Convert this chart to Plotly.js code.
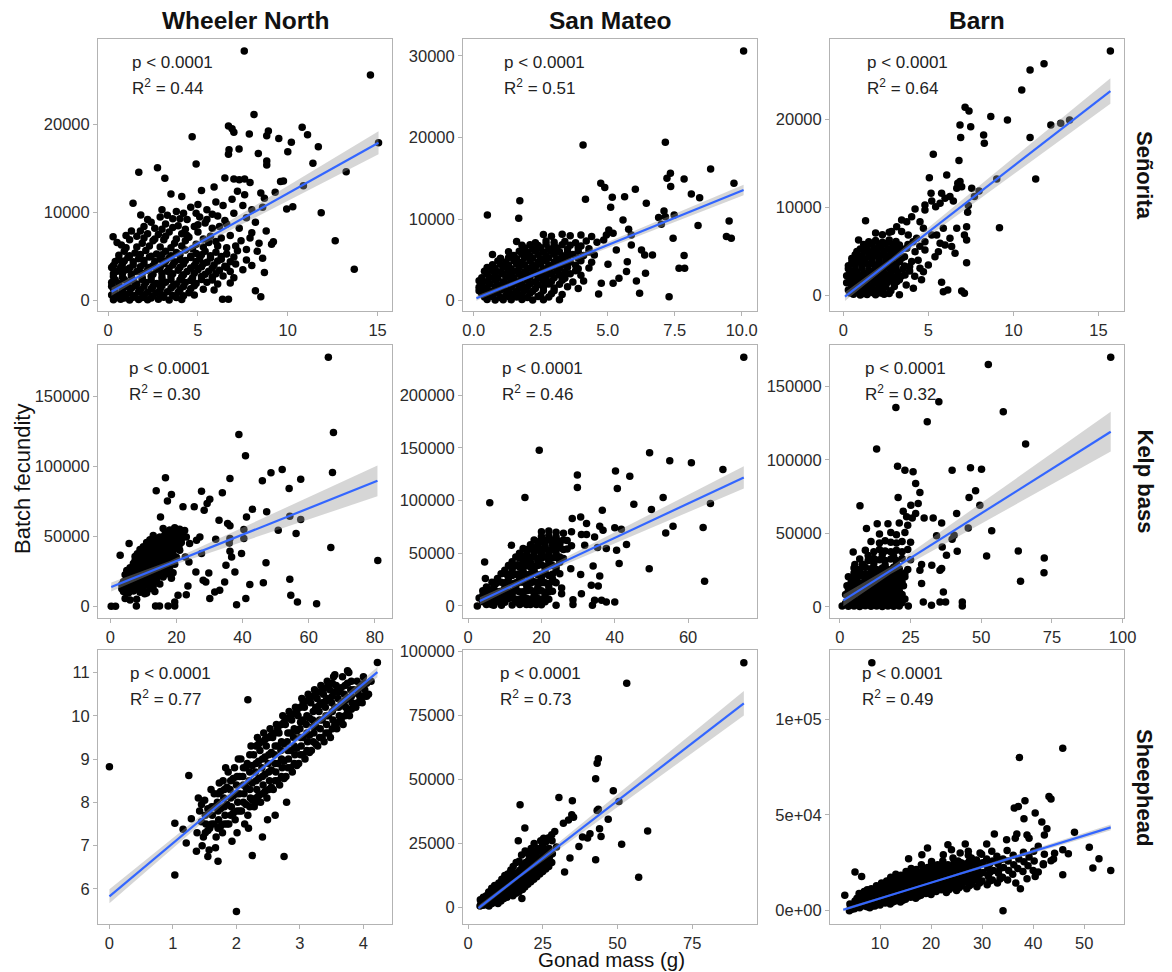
<!DOCTYPE html>
<html><head><meta charset="utf-8">
<script src="https://cdn.plot.ly/plotly-3.0.1.min.js"></script>
<style>html,body{margin:0;padding:0;background:#fff;}#chart{width:1172px;height:972px;}</style>
</head><body><div id="chart"></div>
<script>
const sites = ['Wheeler North', 'San Mateo', 'Barn'];
const species = ['Señorita', 'Kelp bass', 'Sheephead'];
const r2Values = ['0.44', '0.51', '0.64', '0.30', '0.46', '0.32', '0.77', '0.73', '0.49'];

// ---- Señorita ----
const wnSenorita = [[7.58,28300],[14.6,25600],[15.05,17900],[8.12,21100],[4.68,18600],[6.7,19800],[6.9,19500],[7.0,19100],[7.86,18900],[8.92,19240],[8.83,18700],[9.5,18400],[10.2,17950],[10.0,16900],[10.8,19650],[11.1,18800],[11.7,17450],[11.4,15570],[6.73,17100],[6.7,16600],[7.29,17200],[8.36,16700],[8.83,15840],[8.83,15380],[4.9,15500],[2.75,15080],[1.71,14550],[3.16,13870],[13.25,14630],[10.87,13040],[9.76,13570],[9.6,13500],[11.86,9980],[12.64,6800],[13.7,3550],[9.94,10400],[10.28,10660],[9.1,6390],[9.2,6690],[8.2,1130],[8.5,450],[6.37,150],[6.7,150],[1.39,11040],[1.82,9710],[0.28,7260],[0.74,6300],
[3.5,12100],[4.1,11800],[5.2,12500],[5.9,12900],[6.5,13900],[7.0,13800],[7.3,13700],[7.6,13800],[7.9,13400],[7.2,12400],[7.6,12000],[8.5,12200],[8.7,11600],[9.3,12300],[6.0,11200],[6.4,10800],[6.9,11500],[7.5,10800],[8.0,10300],[8.6,10600],[5.0,10900],[5.5,10300],[4.6,10600],[4.2,9900],[3.8,10100],[3.0,10300],[2.9,9500],[3.6,9300],[4.4,9200],[5.1,9500],[5.8,9800],[6.5,9100],[7.0,9900],[7.7,9400],[8.2,8900],[3.2,8700],[2.4,8900],[2.0,8400],[2.6,8200],[3.9,8500],[4.8,8400],[5.4,8800],[6.2,8400],[7.3,8200],[8.0,7700],[8.8,7900],[1.3,7900],[1.0,7400],[1.6,7300],[2.2,7600],[2.8,7500],[3.4,7800],[4.1,7600],[4.5,7200],[5.0,7800],[5.7,7300],[6.3,7100],[6.8,7400],[7.4,6800],[7.9,7100],[8.4,6500],[0.5,6600],[1.2,6900],[1.9,6500],[2.5,6800],[3.1,6900],[3.7,6500],[4.3,6800],[4.9,6400],[5.6,6600],[6.1,6200],[6.6,6000],[7.1,6200],[7.7,5800],[8.3,5600],[8.6,4800],
[1.0,6000],[1.6,6100],[2.3,6200],[2.9,6100],[3.5,6000],[4.1,6200],[4.7,5900],[5.3,6100],[2.0,7100],[2.6,7000],[3.2,7300],[3.8,7000],[4.4,7400],[5.3,7000],[6.0,6700],[1.8,7900],[3.0,8100],[3.6,8300],[4.3,8100],[5.0,8600],[5.8,8200],[2.2,9200],[3.3,9700],[4.0,9300],[4.9,9900],[5.5,9200],[6.1,9600],[6.6,8700],
[0.9,5600],[1.5,5400],[2.1,5700],[2.7,5300],[3.2,5600],[3.8,5450],[4.3,5750],[4.9,5350],[5.4,5600],[6.0,5500],[6.6,5300],[7.2,5650],
[0.6,5150],[1.2,5100],[1.8,5250],[2.4,5050],[3.0,5200],[3.5,5100],[4.0,5250],[4.6,5050],[5.2,5200],[5.7,5100],[6.3,5000],
[0.6,4700],[1.1,4900],[1.7,4750],[2.3,4950],[2.9,4700],[3.4,4850],[4.0,4650],[4.6,4900],[5.1,4750],[5.7,4850],[6.3,4700],[7.0,4950],[7.7,4600],
[0.4,4450],[0.9,4500],[1.4,4400],[2.0,4550],[2.6,4450],[3.2,4500],[3.7,4400],[4.3,4550],[4.9,4450],[5.5,4350],[6.1,4500],[6.8,4400],
[0.3,4000],[0.8,4200],[1.4,4050],[2.0,4150],[2.5,3950],[3.1,4200],[3.6,4050],[4.2,4150],[4.8,4000],[5.3,4200],[5.9,4050],[6.5,3900],[7.1,4150],[8.0,4000],
[0.2,3750],[0.7,3800],[1.2,3700],[1.8,3850],[2.3,3750],[2.9,3800],[3.4,3700],[4.0,3800],[4.6,3700],[5.2,3850],[5.8,3700],[6.6,3750],
[0.5,3350],[1.0,3500],[1.6,3300],[2.2,3450],[2.7,3550],[3.3,3350],[3.9,3450],[4.4,3300],[5.0,3500],[5.6,3350],[6.2,3450],[6.8,3300],[7.5,3500],[8.7,3200],
[0.3,3050],[0.8,3100],[1.3,3000],[1.9,3100],[2.5,3000],[3.0,3100],[3.6,3050],[4.2,2950],[4.8,3100],[5.4,3000],[6.0,3050],
[0.3,2750],[0.8,2650],[1.3,2800],[1.9,2600],[2.4,2750],[3.0,2650],[3.5,2800],[4.1,2700],[4.7,2600],[5.2,2750],[5.8,2650],[6.4,2800],[7.0,2600],
[0.4,2350],[0.9,2400],[1.4,2300],[1.9,2400],[2.4,2350],[3.0,2300],[3.5,2400],[4.0,2350],[4.6,2300],[5.2,2400],[5.8,2350],
[0.2,2050],[0.6,1950],[1.1,2100],[1.6,1900],[2.1,2050],[2.7,1950],[3.2,2100],[3.8,1900],[4.3,2050],[4.9,1950],[5.5,2100],[6.1,1900],[6.8,2000],
[0.2,1650],[0.6,1700],[1.0,1600],[1.5,1700],[2.0,1650],[2.5,1600],[3.0,1700],[3.6,1650],[4.2,1600],[4.8,1700],
[0.3,1350],[0.8,1250],[1.3,1400],[1.8,1250],[2.4,1350],[2.9,1300],[3.5,1400],[4.0,1250],[4.6,1350],[5.3,1300],[5.9,1200],
[0.4,950],[0.8,1000],[1.2,900],[1.7,1000],[2.2,950],[2.7,900],[3.3,1000],[3.9,950],[4.5,900],
[0.2,650],[0.6,550],[1.0,700],[1.5,600],[2.0,650],[2.5,550],[3.0,650],[3.6,600],[4.2,550],[4.8,650],
[0.4,350],[0.9,300],[1.4,400],[1.9,350],[2.4,300],[3.1,400],[3.8,350],
[0.3,100],[0.7,150],[1.2,80],[1.7,120],[2.2,100],[2.8,150],[3.4,90],[4.1,120]];

const smSenorita = [[10.07,30600],[4.08,19090],[7.15,19410],[8.84,16140],[7.34,15610],[7.21,15000],[7.35,13980],[7.85,14920],[9.71,14390],[4.74,14390],[4.89,13860],[8.12,13080],[8.43,12630],[6.03,13650],[5.63,12750],[5.17,12670],[5.11,11440],[4.17,12420],[6.44,11930],[1.72,12260],[0.51,10500],[1.68,10100],[5.57,9890],[6.9,10180],[7.1,11000],[7.15,10300],[7.48,10500],[7.0,9360],[8.37,9200],[9.53,9770],[7.44,7640],[9.43,7850],[9.61,7640],[7.85,5520],[7.66,3960],[7.87,3960],[7.29,490],[6.19,900],[6.67,5600],[5.78,8750],[5.88,8050],[5.88,6830],[6.26,6210],[6.38,5600],[5.73,4780],[5.70,3560],[6.07,2410],[6.41,3350],[5.42,2740],[5.2,2130],[4.76,2130],[4.66,820],[5.01,4450],[5.32,6210],[4.85,7440],[4.95,8050],[5.04,8660],[5.2,8250],
[2.6,8100],[2.9,7900],[3.3,8150],[3.6,7950],[4.0,8050],[4.4,7850],
[1.6,7250],[2.3,7100],[2.7,7300],[3.0,7150],[3.4,7250],[3.8,7100],[4.2,7300],[4.6,7150],
[1.8,6800],[2.1,6850],[2.4,6750],[2.7,6900],[3.0,6750],[3.3,6850],[3.6,6800],[4.0,6700],
[1.9,6450],[2.2,6300],[2.5,6500],[2.8,6350],[3.1,6450],[3.5,6300],[3.9,6500],[4.3,6350],
[1.3,6000],[1.7,6050],[2.0,5950],[2.3,6100],[2.6,5950],[2.9,6050],[3.2,6000],[3.5,5900],[3.9,6050],[4.3,5950],
[0.7,5650],[1.5,5550],[1.8,5700],[2.1,5500],[2.4,5650],[2.7,5550],[3.0,5700],[3.3,5500],[3.7,5650],[4.1,5550],[4.5,5600],
[1.0,5200],[1.3,5250],[1.6,5150],[1.9,5300],[2.2,5200],[2.5,5150],[2.8,5250],[3.1,5150],[3.5,5250],[3.9,5200],
[0.9,4850],[1.2,4750],[1.5,4900],[1.8,4700],[2.1,4850],[2.4,4750],[2.7,4900],[3.0,4700],[3.3,4850],[3.6,4750],[4.0,4900],[4.4,4700],
[0.7,4400],[1.0,4450],[1.3,4350],[1.6,4500],[1.9,4400],[2.2,4350],[2.5,4450],[2.8,4350],[3.1,4450],[3.4,4400],[3.8,4350],
[0.5,4050],[0.8,3950],[1.1,4100],[1.4,3900],[1.7,4050],[2.0,3950],[2.3,4100],[2.6,3900],[2.9,4050],[3.2,3950],[3.5,4100],[3.9,3900],[4.3,4000],
[0.4,3600],[0.7,3650],[1.0,3550],[1.3,3700],[1.6,3600],[1.9,3550],[2.2,3650],[2.5,3550],[2.8,3650],[3.1,3600],[3.4,3550],[3.8,3650],
[0.5,3250],[0.8,3150],[1.1,3300],[1.4,3100],[1.7,3250],[2.0,3150],[2.3,3300],[2.6,3100],[2.9,3250],[3.2,3150],[3.6,3300],[4.0,3100],
[0.3,2800],[0.6,2850],[0.9,2750],[1.2,2900],[1.5,2800],[1.8,2750],[2.1,2850],[2.4,2750],[2.7,2850],[3.0,2800],[3.4,2750],
[0.2,2450],[0.5,2350],[0.8,2500],[1.1,2300],[1.4,2450],[1.7,2350],[2.0,2500],[2.3,2300],[2.6,2450],[2.9,2350],[3.3,2500],[3.7,2300],[4.1,2400],
[0.3,2000],[0.6,2050],[0.9,1950],[1.2,2100],[1.5,2000],[1.8,1950],[2.1,2050],[2.4,1950],[2.8,2050],[3.2,2000],
[0.2,1650],[0.5,1550],[0.8,1700],[1.1,1500],[1.4,1650],[1.7,1550],[2.0,1700],[2.3,1500],[2.6,1650],[3.0,1550],[3.5,1700],[3.9,1500],
[0.2,1200],[0.4,1250],[0.7,1150],[1.0,1300],[1.3,1200],[1.6,1150],[1.9,1250],[2.2,1150],[2.6,1250],[3.0,1200],
[0.3,850],[0.6,750],[0.9,900],[1.2,700],[1.5,850],[1.8,750],[2.1,900],[2.5,700],[2.9,850],[3.3,750],
[0.4,450],[0.7,500],[1.0,400],[1.3,500],[1.6,450],[2.0,400],[2.4,500],[2.8,450],
[0.5,150],[0.8,80],[1.1,120],[1.4,100],[1.8,150],[2.2,90],[2.6,120],[3.2,100]];

const barnSenorita = [[15.7,27750],[11.8,26300],[10.98,25590],[10.49,23320],[7.16,21360],[7.39,20940],[8.67,20300],[9.65,19920],[6.86,19350],[7.49,19160],[12.2,19350],[12.78,19540],[13.3,19920],[8.25,18220],[8.29,17270],[6.9,17920],[10.98,17920],[5.29,16030],[6.8,15310],[5.06,13380],[6.08,13680],[6.86,12930],[6.73,12740],[9.02,13230],[11.31,13230],[7.55,12170],[7.98,11870],[7.71,11230],[7.35,10210],[7.31,9450],[9.18,7710],[7.25,7820],[7.12,6880],[7.25,6310],[7.25,3740],[1.31,8500],[6.96,530],[7.12,260],[6.14,640],[5.88,450],[5.78,1510],
[4.22,9830],[4.8,10280],[5.2,10740],[5.43,10090],[5.69,10470],[5.98,11040],[6.27,11230],[6.47,10740],[6.67,12170],[6.96,12360],[5.78,11600],[5.16,11600],[4.8,9710],[3.43,8580],[3.73,8390],[4.02,8960],[4.51,8390],[3.14,7820],[2.84,7260],[3.43,7260],[3.82,6880],[4.31,6500],[4.8,6120],[5.2,6880],[4.71,7640],[5.69,5930],[5.98,5750],[6.37,5560],[6.57,4800],[6.27,6500],[6.67,7640],[5.88,7640],[5.49,6880],[5.59,4990],[5.39,4420],[5.0,3480],[4.71,2720],[4.51,3100],[4.8,5180],[4.22,4990],[3.73,5370],[4.02,3860],[3.43,4230],[3.63,2340],[4.12,830],[3.14,1590],[2.84,3100],
[3.6,4400],[3.9,3300],[4.2,2200],[4.4,4000],[3.8,5800],[4.1,6100],[4.5,5600],[3.7,1200],[3.9,2800],[4.6,1800],
[1.9,7100],[2.3,6900],[2.7,7200],
[0.9,6300],[1.5,6100],[1.9,6250],[2.3,6050],[2.7,6300],[3.1,6150],
[1.2,5800],[1.7,5850],[2.1,5750],[2.5,5900],[2.9,5800],[3.3,5750],
[1.0,5300],[1.4,5500],[1.8,5350],[2.2,5450],[2.6,5300],[3.0,5500],[3.4,5350],
[0.8,5000],[1.2,5050],[1.6,4950],[2.0,5100],[2.4,5000],[2.8,4950],[3.2,5050],
[0.7,4650],[1.1,4500],[1.5,4700],[1.9,4550],[2.3,4650],[2.7,4500],[3.1,4700],
[0.5,4200],[0.9,4250],[1.3,4150],[1.7,4300],[2.1,4200],[2.5,4150],[2.9,4250],[3.3,4200],
[0.5,3750],[0.9,3900],[1.3,3700],[1.7,3850],[2.1,3750],[2.5,3900],[2.9,3700],[3.3,3850],
[0.3,3400],[0.7,3450],[1.1,3350],[1.5,3500],[1.9,3400],[2.3,3350],[2.7,3450],[3.1,3400],[3.6,3350],
[0.3,3050],[0.7,2950],[1.1,3100],[1.5,2900],[1.9,3050],[2.3,2950],[2.7,3100],[3.1,2900],[3.5,3000],
[0.4,2600],[0.8,2650],[1.2,2550],[1.6,2700],[2.0,2600],[2.4,2550],[2.8,2650],[3.2,2600],
[0.2,2250],[0.6,2150],[1.0,2300],[1.4,2100],[1.8,2250],[2.2,2150],[2.6,2300],[3.0,2100],[3.4,2200],
[0.4,1800],[0.8,1850],[1.2,1750],[1.6,1900],[2.0,1800],[2.4,1750],[2.8,1850],[3.3,1800],
[0.2,1450],[0.6,1350],[1.0,1500],[1.4,1350],[1.8,1450],[2.2,1350],[2.6,1500],[3.0,1400],
[0.5,1000],[0.9,1050],[1.3,950],[1.7,1100],[2.1,1000],[2.5,950],[3.0,1050],
[0.3,650],[0.7,550],[1.1,700],[1.5,550],[1.9,650],[2.3,600],[2.8,550],
[0.4,300],[0.8,350],[1.2,250],[1.7,350],[2.2,300],[2.7,250],
[0.6,150],[1.0,80],[1.4,120],[1.9,100],[2.4,150],[3.3,90]];

// ---- Kelp bass ----
const wnKelp = [[65.96,177600],[67.5,124000],[38.9,122600],[40.9,107400],[67.2,95500],[52.0,97600],[48.6,95200],[46.0,89500],[57.6,90700],[36.2,91200],[54.1,84000],[16.7,91700],[13.9,82400],[18.5,79800],[17.3,75200],[27.6,82100],[30.1,76400],[29.3,73300],[33.9,81000],[22.0,71000],[25.4,71000],[28.4,68600],[43.0,69300],[47.3,67400],[15.2,63800],[41.2,63800],[32.9,61400],[35.5,59000],[36.2,57400],[40.4,54800],[54.3,64300],[57.6,61900],[50.8,54300],[56.2,51900],[36.2,48300],[36.0,45200],[31.9,47900],[40.4,48300],[27.1,49500],[24.0,44800],[26.1,47100],[36.2,39300],[36.7,35200],[39.7,37600],[27.6,37600],[22.7,35200],[23.8,31700],[35.0,29300],[47.1,31000],[37.7,24500],[25.9,24500],[29.8,23800],[28.1,18600],[28.9,17400],[34.6,17400],[42.2,15500],[46.3,16900],[80.9,32600],[66.7,41900],[54.3,19300],[54.6,7900],[56.6,3100],[62.4,1900],[38.2,1200],[41.0,5500],[5.7,44800],[3.0,36400],[30.1,5500],[31.6,10200],[33.1,11400],[23.5,14500],[23.0,8300],[20.5,7900],[19.5,3100],[17.5,240],[19.5,240],[13.7,240],[14.9,240],[10.4,9000],[7.9,240],[0.3,0],[1.6,0],
[16,55500],[18,54500],[19.5,56000],[21,55000],[22.5,54000],
[17,52500],[18.7,52000],[20.3,53000],[21.8,52500],
[13,50500],[15,49500],[16.5,51000],[18,50000],[19.5,49000],[21,50500],[23,49500],
[12,47500],[13.7,48000],[15.2,47000],[16.8,48000],[18.3,47000],[19.8,47500],[21.5,48000],
[11,45500],[12.5,44500],[14,46000],[15.5,45000],[17,44000],[18.5,45500],[20,44500],[21.5,45500],
[10,42500],[11.7,42000],[13.2,43000],[14.7,42000],[16.2,43000],[17.8,42500],[19.3,42000],[20.8,43000],
[9,40500],[10.5,39500],[12,41000],[13.5,40000],[15,39000],[16.5,40500],[18,39500],[19.5,41000],[21,40000],
[8.2,37500],[9.7,38000],[11.2,37000],[12.8,38000],[14.3,37000],[15.8,38000],[17.3,37500],[19,37000],
[7.5,35500],[9,34500],[10.5,36000],[12,35000],[13.5,34000],[15,35500],[16.5,34500],[18,36000],[20,35000],
[7.5,32500],[9,33000],[10.7,32000],[12.2,33000],[13.8,32000],[15.3,33000],[16.8,32500],[18.5,32000],
[7,30500],[8.5,29500],[10,31000],[11.5,30000],[13,29000],[14.5,30500],[16,29500],[17.5,31000],[19.5,30000],
[6,27500],[7.5,28000],[9,27000],[10.5,28000],[12,27000],[13.5,28000],[15,27500],[16.5,27000],[18,28000],
[5,25500],[6.5,24500],[8,26000],[9.5,25000],[11,24000],[12.5,25500],[14,24500],[15.5,26000],[17,25000],[19,24000],
[4.5,22500],[6,23000],[7.5,22000],[9,23000],[10.5,22000],[12,23000],[13.5,22500],[15,22000],[17,23000],
[5,20500],[6.5,19500],[8,21000],[9.5,20000],[11,19000],[12.5,20500],[14,19500],[16,21000],[18.5,20000],
[4,17500],[5.8,18000],[7.3,17000],[8.8,18000],[10.3,17000],[11.8,18000],[13.5,17500],
[3.5,15500],[5,14500],[6.5,16000],[8,15000],[9.5,14000],[11,15500],[13,14500],[15,16000],
[3.5,12500],[5,13000],[6.5,12000],[8.5,13000],[10,12000],[12,12500],
[4,10500],[5.5,9500],[7,11000],[9,10000],[11,9500],[13.5,10500],
[4.5,5500],[6,4500],[8,5000]];

const smKelp = [[75.2,235800],[19.4,147800],[49.5,145300],[55.0,137700],[60.9,135800],[69.5,129400],[40.2,127900],[44.1,123100],[29.8,124100],[29.8,112400],[40.7,111400],[15.5,102900],[5.9,97800],[53.2,102900],[45.2,96500],[50.0,91500],[66.1,97200],[36.6,90800],[28.4,82900],[30.7,84500],[35.9,75600],[36.8,71800],[40.0,74100],[41.8,72800],[55.9,75600],[53.9,69300],[64.1,74400],[32.3,78200],[28.2,70300],[30.9,67700],[32.3,67700],[34.5,65500],[43.2,58200],[40.5,52900],[37.7,54400],[35.3,55400],[31.8,57600],[28.2,57000],[11.8,57600],[41.2,40200],[34.1,38000],[49.4,35400],[64.5,23400],[30.7,29800],[28.0,35400],[35.9,28500],[35.5,19000],[33.6,19600],[25.5,17100],[30.9,11700],[28.6,6000],[33.9,600],[34.5,5400],[36.4,5400],[37.7,3800],[40.0,3800],[28.6,1300],[4.5,41800],[4.7,26000],[23.6,22800],[25.5,11700],[18.2,5400],[18.6,1300],[14.1,1300],[15.9,1300],[6.4,1300],[9.1,600],[2.5,0],
[20,70500],[22,71000],[24,70000],[26,69000],
[20,66000],[22,66500],[24,65500],
[18,62500],[19.5,61500],[21,62000],[23,62500],[25,61500],[27,62000],
[20,61000],[22,62500],[24,61000],[26,62500],
[17,58000],[19,58500],[21,57500],[23,58000],[25,58500],
[15,54500],[17,54000],[19,53000],[21,54500],[23,53500],[25,55000],[27,54000],
[16,53500],[18,55000],[20,54000],[22,53000],[24,54500],[26,53500],
[14,50000],[16,50500],[18,49500],[20,50000],[22,50500],[24,49500],
[13,46500],[14.5,46000],[16,45000],[18,46500],[20,45500],[22,47000],[24,46000],[26,45000],
[14,45500],[15.5,47000],[17,46000],[19,45000],[21,46500],[23,45500],[25,46500],
[12,42000],[15,42500],[17,41500],[19,42000],[22,42500],[25,41500],
[11,38500],[12.5,38000],[14,37000],[16,38500],[18,37500],[20,39000],[22,38000],[24,37000],
[12,37500],[13.5,39000],[15,38000],[17,37000],[19,38500],[21,37500],[23,38500],
[10,34000],[12,34500],[15,33500],[18,34000],[21,34500],[24,33500],
[9,30500],[10.5,30000],[12,29000],[14,30500],[16,29500],[18,31000],[20,30000],[22,29000],[25,30500],
[10,31000],[11.5,29500],[13,30000],[15,29000],[17,30500],[19,29500],[21,31000],[23,30000],
[8,26000],[11,26500],[14,25500],[17,26000],[20,26500],[23,25500],
[6.5,22500],[8,23000],[10,22000],[12,21000],[14,22500],[16,21500],[18,23000],[20,22000],[22,21000],[24,22000],
[7.5,21000],[9,22500],[11,21500],[13,22000],[15,22500],[17,21500],[19,22500],[21,22000],
[5,18000],[7,18500],[10,17500],[13,18000],[16,18500],[19,17500],[22,18000],
[4,14500],[5.5,13500],[7,15000],[9,14000],[11,13000],[13,14500],[15,13500],[17,15000],[19,14000],[21,13000],[23,14000],
[5,14000],[6,15000],[8,13500],[10,14500],[12,14000],[14,13500],[16,14500],[18,14000],[20,14500],[22,13500],
[4,10000],[6,10500],[8,9500],[10,10000],[12,10500],[15,9500],[18,10000],[21,10500],
[3,7500],[4.5,6500],[6,8000],[8,7000],[10,6000],[12,7500],[14,6500],[16,7000],[19,7000],[22,6500],
[4,7000],[5,8000],[7,6500],[9,7500],[11,7000],[13,6500],[15,7500],[17,6500],[18,7500],[20,6500],
[4,4000],[6,3500],[8,4500],[10,3500],[13,4000],[15,4500],[18,3500],[21,4000],
[5,1500],[7,800],[9,2000],[12,1000],[14,2500],[17,1500],[20,1200],[24,800]];

const barnKelp = [[95.8,169500],[52.5,164700],[19.8,135500],[35.0,139400],[30.9,125800],[57.8,132600],[13.0,107200],[65.7,110600],[20.4,95600],[23.0,92900],[25.9,91800],[39.7,92900],[46.2,94500],[50.1,93600],[26.8,83800],[28.3,77700],[20.6,74300],[25.1,69100],[27.7,70200],[48.0,78900],[45.7,74300],[49.5,69100],[41.3,63400],[7.1,68700],[22.4,65000],[23.6,61200],[25.6,60500],[26.8,63400],[29.8,60500],[33.0,60500],[36.0,57100],[45.4,53700],[53.7,51700],[9.4,53300],[13.2,56600],[34.2,48300],[40.4,48700],[39.7,46000],[36.2,40800],[37.7,35100],[41.5,37800],[51.9,34700],[63.1,38100],[72.3,33300],[72.2,23300],[63.9,17400],[28.9,28800],[28.3,24900],[32.5,28300],[36.0,26100],[35.4,24900],[28.9,15900],[36.6,10200],[29.5,3400],[32.4,1100],[35.4,3400],[37.4,3400],[43.3,3400],[43.3,680],[0.8,680],[8.8,1600],[18.3,1600],[24.2,680],[5.3,28800],[4.7,37400],
[17,56500],[21,57000],[24,55500],
[14,49500],[18,50500],[20,49000],[23,50500],
[11,44500],[14,43500],[16,45000],[18,44000],[20,43500],[22,44500],[25,44000],
[9,38500],[12,37500],[14,39000],[16,38000],[18,37500],[20,38500],[22,37500],[24,39000],
[10,35000],[15,35500],[19,34500],
[7,32500],[10,31500],[12,33000],[14,32000],[16,31500],[18,32500],[20,31500],[22,33000],[25,32000],
[8,29000],[12,29500],[16,28500],[20,29000],
[5,26500],[7,25500],[9,27000],[11,26000],[13,25500],[15,26500],[17,25500],[19,27000],[21,26000],[24,25500],
[5,23000],[7,23500],[9,22500],[11,23000],[13,23500],[15,22500],[17,23000],[19,23500],[21,22500],[23,23000],
[3,20500],[5,19500],[7,21000],[9,20000],[11,19500],[13,20500],[15,19500],[17,21000],[19,20000],[21,19500],[23,20500],
[4,17000],[6,17500],[8,16500],[10,17000],[12,17500],[14,16500],[16,17000],[18,17500],[20,16500],[22,17000],
[2.5,14500],[4.5,13500],[6.5,15000],[8.5,14000],[10.5,13500],[12.5,14500],[14.5,13500],[16.5,15000],[18.5,14000],[20.5,13500],[22.5,14500],
[3,11000],[5,11500],[7,10500],[9,11000],[11,11500],[13,10500],[15,11000],[17,11500],[19,10500],[21,11000],
[2,8500],[4,7500],[6,9000],[8,8000],[10,7500],[12,8500],[14,7500],[16,9000],[18,8000],[20,7500],[22,8500],
[3,5000],[5,5500],[7,4500],[9,5000],[11,5500],[13,4500],[15,5000],[17,5500],[19,4500],[21,5000],[23,5500],
[2,2500],[4,3000],[6,2000],[8,3200],[10,2600],[12,2000],[14,3000],[16,2400],[18,3200],[20,2000],[22,2800],
[3,500],[5,700],[7,400],[9,800],[11,500],[13,600],[15,400],[17,700],[19,500],[21,600]];

// ---- Sheephead ----
const wnSheep = [[0.0,8.82],[2.18,10.37],[4.22,11.23],[2.0,5.48],[1.03,6.32],[1.03,7.52],[1.25,8.62],[1.21,7.06],[1.37,6.87],[1.55,6.75],[1.71,6.64],[2.25,6.77],[2.75,6.75],[1.16,7.38],[1.29,7.62],[3.75,11.04],[3.55,10.95],
[1.38,7.3],[1.42,7.8],[1.40,8.1],
[1.48,7.2],[1.52,7.5],[1.50,8.05],[1.46,7.0],
[1.58,7.4],[1.62,7.7],[1.60,8.3],[1.57,6.9],
[1.68,7.2],[1.72,7.6],[1.70,8.0],[1.73,8.45],[1.67,6.95],
[1.78,7.3],[1.82,7.7],[1.80,8.1],[1.79,8.5],[1.83,8.8],
[1.88,7.5],[1.92,7.9],[1.90,8.3],[1.87,8.7],[1.93,7.1],
[1.98,7.6],[2.02,8.0],[2.00,8.4],[1.97,8.8],[2.03,9.0],[2.01,7.3],
[2.08,7.8],[2.12,8.2],[2.10,8.6],[2.07,9.0],[2.13,7.5],
[2.18,7.7],[2.22,8.1],[2.20,8.5],[2.17,8.9],[2.23,9.3],[2.19,7.4],
[2.28,7.9],[2.32,8.3],[2.30,8.7],[2.27,9.1],[2.33,9.5],[2.31,8.0],
[2.38,8.0],[2.42,8.4],[2.40,8.8],[2.37,9.2],[2.43,9.6],[2.41,7.2],
[2.48,8.1],[2.52,8.5],[2.50,8.9],[2.47,9.3],[2.53,9.7],[2.49,7.6],
[2.58,8.3],[2.62,8.7],[2.60,9.1],[2.57,9.5],[2.63,9.8],[2.61,7.7],
[2.68,8.4],[2.72,8.8],[2.70,9.2],[2.67,9.6],[2.73,10.0],
[2.78,8.6],[2.82,9.0],[2.80,9.4],[2.77,9.8],[2.83,10.1],[2.79,8.0],
[2.88,8.7],[2.92,9.1],[2.90,9.5],[2.87,9.9],[2.93,10.2],
[2.98,8.9],[3.02,9.3],[3.00,9.7],[2.97,10.0],[3.03,10.4],
[3.08,9.0],[3.12,9.4],[3.10,9.8],[3.07,10.2],[3.13,10.5],
[3.18,9.2],[3.22,9.6],[3.20,9.9],[3.17,10.3],[3.23,10.6],
[3.28,9.3],[3.32,9.7],[3.30,10.1],[3.27,10.4],[3.33,10.7],
[3.38,9.4],[3.42,9.8],[3.40,10.2],[3.37,10.5],[3.43,10.8],
[3.48,9.5],[3.52,9.9],[3.50,10.3],[3.47,10.6],[3.53,10.9],
[3.58,9.7],[3.62,10.0],[3.60,10.4],[3.57,10.7],
[3.68,9.8],[3.72,10.2],[3.70,10.5],[3.67,10.9],
[3.78,10.0],[3.82,10.3],[3.80,10.6],[3.77,11.0],
[3.88,10.2],[3.92,10.5],[3.90,10.8],
[3.98,10.3],[4.02,10.6],[4.00,10.9],
[4.08,10.5],[4.12,10.8],
[1.45,7.55],[1.45,7.95],[1.55,7.35],[1.55,7.85],[1.65,7.5],[1.65,7.9],[1.65,8.2],[1.75,7.45],[1.75,7.85],[1.75,8.25],[1.85,7.5],[1.85,7.95],[1.85,8.35],[1.95,7.75],[1.95,8.15],[1.95,8.55],[2.05,7.8],[2.05,8.2],[2.05,8.6],[2.15,7.95],[2.15,8.35],[2.15,8.8],[2.25,8.05],[2.25,8.45],[2.25,8.85],[2.35,8.15],[2.35,8.55],[2.35,8.95],[2.35,9.35],[2.45,8.25],[2.45,8.65],[2.45,9.05],[2.45,9.45],[2.55,8.35],[2.55,8.75],[2.55,9.15],[2.55,9.55],[2.65,8.5],[2.65,8.9],[2.65,9.3],[2.65,9.7],[2.75,8.55],[2.75,8.95],[2.75,9.35],[2.75,9.85],[2.85,8.8],[2.85,9.2],[2.85,9.6],[2.85,10.0],[2.95,8.85],[2.95,9.25],[2.95,9.65],[2.95,10.1],[3.05,9.1],[3.05,9.5],[3.05,9.9],[3.05,10.3],[3.15,9.15],[3.15,9.55],[3.15,9.95],[3.15,10.4],[3.25,9.35],[3.25,9.75],[3.25,10.2],[3.25,10.55],[3.35,9.5],[3.35,9.9],[3.35,10.3],[3.35,10.6],[3.45,9.6],[3.45,10.0],[3.45,10.4],[3.45,10.7],[3.55,9.8],[3.55,10.2],[3.55,10.55],[3.65,9.9],[3.65,10.3],[3.65,10.65],[3.75,10.1],[3.75,10.4],[3.75,10.75],[3.85,10.25],[3.85,10.6],[3.95,10.4],[3.95,10.7],[4.05,10.45],[4.05,10.75],
[1.51,7.3],[1.51,7.7],[1.61,7.5],[1.61,7.9],[1.71,7.4],[1.71,7.8],[1.71,8.2],[1.81,7.5],[1.81,7.9],[1.81,8.3],[1.91,7.7],[1.91,8.1],[1.91,8.5],[2.01,7.8],[2.01,8.2],[2.01,8.6],[2.11,8.0],[2.11,8.4],[2.11,8.8],[2.21,7.9],[2.21,8.3],[2.21,8.7],[2.21,9.1],[2.31,8.1],[2.31,8.5],[2.31,8.9],[2.31,9.3],[2.41,8.2],[2.41,8.6],[2.41,9.0],[2.41,9.4],[2.51,8.3],[2.51,8.7],[2.51,9.1],[2.51,9.5],[2.61,8.5],[2.61,8.9],[2.61,9.3],[2.61,9.6],[2.71,8.6],[2.71,9.0],[2.71,9.4],[2.71,9.8],[2.81,8.8],[2.81,9.2],[2.81,9.6],[2.81,9.95],[2.91,8.9],[2.91,9.3],[2.91,9.7],[2.91,10.05],[3.01,9.1],[3.01,9.5],[3.01,9.85],[3.01,10.2],[3.11,9.2],[3.11,9.6],[3.11,10.0],[3.11,10.35],[3.21,9.4],[3.21,9.75],[3.21,10.1],[3.21,10.45],[3.31,9.5],[3.31,9.9],[3.31,10.25],[3.31,10.55],[3.41,9.6],[3.41,10.0],[3.41,10.35],[3.41,10.65],[3.51,9.7],[3.51,10.1],[3.51,10.45],[3.51,10.75],[3.61,9.85],[3.61,10.2],[3.61,10.55],[3.71,10.0],[3.71,10.35],[3.71,10.7],[3.81,10.15],[3.81,10.45],[3.81,10.8],[3.91,10.3],[3.91,10.6],[4.01,10.45],[4.01,10.75]];

const smSheep = [[92.3,95700],[53.1,87600],[43.6,58100],[43.2,56400],[42.7,50300],[48.6,45600],[30.4,43000],[34.9,41700],[17.4,40100],[43.6,38400],[43.2,37900],[50.5,41400],[46.9,34500],[34.7,36200],[35.3,35200],[33.6,34200],[31.9,32900],[60.1,29900],[44.0,30700],[44.5,27700],[40.8,28800],[40.0,27100],[38.3,27500],[51.4,24700],[42.7,18600],[34.1,19300],[32.3,13800],[57.1,11800],[37.1,23800],[19.0,31000],[16.8,26000],[29.6,23600],[26.9,27100],[28.0,28400],[29.0,29700],
[4,500],[4.3,1500],[4.1,3000],
[5,800],[5.2,2500],[5.1,4000],
[6,1000],[6.2,2500],[6.1,4500],
[7,500],[7.2,2000],[7.1,4000],[6.9,6000],
[8,1500],[8.2,3500],[8.1,5500],[7.9,7500],
[9,2000],[9.2,4000],[9.1,6000],[8.9,8500],
[10,1500],[10.2,3000],[10.1,5000],[9.9,7000],[10.3,9500],
[11,2500],[11.2,4500],[11.1,6500],[10.9,8500],[11.3,11000],
[12,3500],[12.2,5500],[12.1,7500],[11.9,9500],[12.3,12500],
[13,4000],[13.2,6000],[13.1,8000],[12.9,10500],[13.3,13000],
[14,5000],[14.2,7000],[14.1,9000],[13.9,11000],[14.3,14500],
[15,4500],[15.2,6500],[15.1,8500],[14.9,10500],[15.3,12500],[15.1,16000],
[16,5500],[16.2,7500],[16.1,9500],[15.9,11500],[16.3,13500],[16.1,17500],
[17,6000],[17.2,8000],[17.1,10000],[16.9,12000],[17.3,14500],[17.1,18000],
[18,3500],[18.2,7000],[18.1,9000],[17.9,11000],[18.3,13500],[18.1,16000],[17.9,20500],
[19,8000],[19.2,10000],[19.1,12500],[18.9,15000],[19.3,17500],[19.1,22000],
[20,9000],[20.2,11000],[20.1,13500],[19.9,16000],[20.3,18500],[20.1,21000],
[21,10000],[21.2,12500],[21.1,15000],[20.9,17500],[21.3,20000],[21.1,23000],
[22,11000],[22.2,13500],[22.1,16000],[21.9,18500],[22.3,21500],[22.1,25000],
[23,12000],[23.2,14500],[23.1,17500],[22.9,20000],[23.3,23000],
[24,13000],[24.2,16000],[24.1,19000],[23.9,22000],[24.3,26000],
[25,14000],[25.2,17000],[25.1,20000],[24.9,24000],[25.3,27000],
[26,15000],[26.2,18500],[26.1,22000],[25.9,25500],
[27,16000],[27.2,19500],[27.1,23000],[26.9,27000],
[28,17500],[28.2,21000],[28.1,26000]];

const barnSheep = [[8.4,129600],[45.8,84900],[37.3,80000],[43.1,59600],[43.5,58400],[38.4,57400],[36.3,53600],[37.1,54400],[40.4,51000],[38.2,48000],[41.7,46300],[42.7,42800],[38.8,39600],[39.2,37900],[36.8,40000],[36.5,37900],[42.2,39600],[32.4,40000],[34.8,37000],[48.1,41000],[51.0,33200],[52.9,27100],[55.2,21000],[51.7,22300],[45.8,31800],[46.9,29700],[45.8,18800],[41.0,33600],[43.5,26100],[42.0,24000],[41.0,20200],[40.4,17900],[38.8,16700],[37.5,11500],[36.6,14400],[34.1,0],[30.9,34800],[29.6,30100],[26.7,34800],[27.3,31000],[25.7,30100],[23.3,34400],[24.0,31800],[22.4,29200],[20.1,25700],[19.3,32700],[18.2,29200],[15.6,27100],[14.4,17000],[5.1,20200],[6.4,17900],[3.1,8000],
[4,0],[4.2,1500],[4.1,3500],[4.5,700],[4.5,2500],
[5,1000],[5.2,3000],[5.1,5000],[5.5,2000],[5.5,4000],[5.5,6500],
[6,1500],[6.2,4000],[6.1,6500],[5.9,9000],[6.5,3000],[6.5,5500],[6.5,8000],
[7,2500],[7.2,4500],[7.1,7000],[6.9,10000],[7.5,2000],[7.5,5500],[7.5,8000],[7.5,11000],
[8,1500],[8.2,3500],[8.1,6000],[7.9,8500],[8.3,11500],[8.5,2500],[8.5,5000],[8.5,7000],[8.5,9500],
[9,2500],[9.2,5000],[9.1,7500],[8.9,10000],[9.3,13000],[9.5,4000],[9.5,6500],[9.5,9000],[9.5,12000],
[10,3000],[10.2,5500],[10.1,8000],[9.9,11000],[10.3,14500],[10.5,4500],[10.5,7000],[10.5,9500],[10.5,12500],
[11,4000],[11.2,6500],[11.1,9000],[10.9,12000],[11.3,15500],[11.5,5000],[11.5,7500],[11.5,10500],[11.5,13500],
[12,3500],[12.2,6000],[12.1,8500],[11.9,11000],[12.3,14000],[12.1,17500],[12.5,4500],[12.5,7000],[12.5,10000],[12.5,12500],[12.5,16000],
[13,5000],[13.2,7500],[13.1,10000],[12.9,13000],[13.3,16000],[13.1,19000],[13.5,6000],[13.5,8500],[13.5,11500],[13.5,14500],[13.5,17500],
[14,4500],[14.2,7000],[14.1,9500],[13.9,12500],[14.3,15500],[14.1,18500],[14.5,5500],[14.5,8000],[14.5,11000],[14.5,14000],[14.5,17000],
[15,6000],[15.2,8500],[15.1,11000],[14.9,14000],[15.3,17000],[15.1,20500],[15.5,7500],[15.5,10000],[15.5,13000],[15.5,16000],[15.5,19000],
[16,7000],[16.2,9500],[16.1,12500],[15.9,15500],[16.3,18500],[16.1,22000],[16.5,8000],[16.5,11000],[16.5,14000],[16.5,17000],[16.5,20000],
[17,6500],[17.2,9000],[17.1,12000],[16.9,15000],[17.3,18000],[17.1,21500],[17.5,7500],[17.5,10500],[17.5,13500],[17.5,16500],[17.5,19500],
[18,8000],[18.2,11000],[18.1,14000],[17.9,17000],[18.3,20500],[18.1,24000],[18.5,9500],[18.5,12500],[18.5,15500],[18.5,19000],[18.5,22000],
[19,9000],[19.2,12000],[19.1,15500],[18.9,19000],[19.3,22500],[19.5,10500],[19.5,13500],[19.5,17000],[19.5,20500],
[20,8500],[20.2,11500],[20.1,14500],[19.9,18000],[20.3,21500],[20.1,25000],[20.5,10000],[20.5,13000],[20.5,16000],[20.5,19500],[20.5,23000],
[21,10000],[21.2,13500],[21.1,17000],[20.9,20500],[21.3,24000],[21.5,11500],[21.5,15000],[21.5,18500],[21.5,22000],
[22,11000],[22.2,14500],[22.1,18000],[21.9,22000],[22.3,26000],[22.5,12500],[22.5,16000],[22.5,19500],[22.5,23500],
[23,9500],[23.2,13000],[23.1,16500],[22.9,20000],[23.3,24000],[23.5,11000],[23.5,14500],[23.5,18000],[23.5,21500],
[24,12000],[24.2,15500],[24.1,19500],[23.9,23000],[24.3,27500],[24.5,13500],[24.5,17500],[24.5,21000],[24.5,25000],
[25,10500],[25.2,14500],[25.1,18500],[24.9,22500],[25.3,26000],[25.5,12000],[25.5,16500],[25.5,20500],[25.5,24000],
[26,13000],[26.2,17000],[26.1,21000],[25.9,25000],[26.5,15000],[26.5,19000],[26.5,23000],
[27,11500],[27.2,15500],[27.1,20000],[26.9,24500],[27.3,29000],[27.5,13000],[27.5,17500],[27.5,22000],[27.5,26000],
[28,14000],[28.2,18500],[28.1,23000],[27.9,27500],[28.5,16000],[28.5,20500],[28.5,25000],
[29,12500],[29.2,17000],[29.1,21500],[28.9,26500],[29.5,14500],[29.5,19000],[29.5,24000],
[30,15500],[30.2,20000],[30.1,25000],[29.9,29500],
[31,13500],[31.2,18000],[31.1,22500],[30.9,27000],[31.5,15500],[31.5,20000],[31.5,24500],
[32,16000],[32.2,21000],[32.1,26000],[31.9,31000],
[33,14500],[33.2,19500],[33.1,24500],[32.9,28500],[33.5,16500],[33.5,22000],[33.5,26500],
[34,17500],[34.2,22500],[34.1,27000],
[35,16000],[35.2,21000],[35.1,26000],[34.9,31500],
[36,19000],[36.2,24000],[36.1,29000],
[37,22000],[37.2,27000],
[38,20500],[38.2,25500],[38.1,30500],
[39,23500],[39.2,28000],
[40,21000],[40.2,26000],[40.1,31000],
[42,24500],[42.2,29500],
[44,27000],[44.2,30000]];

// Fitted lm line: [xStart, yStart, xEnd, yEnd]
const fitLines = [
  [0.19,1020,15.05,17900], [0.1,290,10.07,13570], [0.1,-110,15.7,23200],
  [0.3,13800,80.8,89500], [3.2,4700,75.2,121900], [1.2,4500,95.8,119000],
  [0.0,5.83,4.22,11.01], [3.46,-260,92.3,79800], [2.8,500,55.2,43500]
];
// Confidence band half widths at [start, centre, end] of each line
const bandCentreX = [3.5, 2.0, 2.8, 18, 18, 18, 2.6, 17, 18];
const bandHalfWidth = [
  [450,250,1300], [300,200,650], [500,300,1450],
  [3200,1800,11000], [3500,2000,10500], [4000,2500,13500],
  [0.16,0.05,0.12], [1000,700,4800], [800,400,1500]
];

const panelData = [wnSenorita, smSenorita, barnSenorita, wnKelp, smKelp, barnKelp, wnSheep, smSheep, barnSheep];

// ---- layout geometry (pixels) ----
const W = 1172, H = 972;
const colPx = [[98,392],[463,757],[830,1124]];
const rowPx = [[39,311],[345,618],[650,924]];
const xRanges = [[-0.56,15.8],[-0.4,10.57],[-0.78,16.5],[-3.7,85.2],[-1.4,78.8],[-3.5,100.5],[-0.18,4.45],[-1.7,96.7],[0.2,57.8]];
const yRanges = [[-1170,29670],[-1270,32080],[-1740,29100],[-8330,186400],[-11400,247500],[-7480,177900],[5.19,11.52],[-6510,100650],[-6960,136200]];
const xTicks = [[0,5,10,15],[0,2.5,5,7.5,10],[0,5,10,15],[0,20,40,60,80],[0,20,40,60],[0,25,50,75,100],[0,1,2,3,4],[0,25,50,75],[10,20,30,40,50]];
const yTicks = [[0,10000,20000],[0,10000,20000,30000],[0,10000,20000],[0,50000,100000,150000],[0,50000,100000,150000,200000],[0,50000,100000,150000],[6,7,8,9,10,11],[0,25000,50000,75000,100000],[0,50000,100000]];
const textOffsetPx = [32,39,35,29,37,33,30,35,30];

const FONT = 'Liberation Sans, Arial, Helvetica, sans-serif';
const traces = [];
const layout = {
  width: W, height: H, margin: {l:0,r:0,t:0,b:0},
  paper_bgcolor: '#fff', plot_bgcolor: '#fff', showlegend: false,
  font: {family: FONT, color: '#222', size: 16}, annotations: []
};

for (let i = 0; i < 9; i++) {
  const sfx = i === 0 ? '' : String(i + 1);
  const r = Math.floor(i / 3), c = i % 3;
  const pts = panelData[i];
  traces.push({type:'scatter', mode:'markers', x: pts.map(p=>p[0]), y: pts.map(p=>p[1]),
    xaxis:'x'+sfx, yaxis:'y'+sfx, marker:{color:'#000', size:7.5}, hoverinfo:'skip'});
  const f = fitLines[i];
  const slope = (f[3]-f[1])/(f[2]-f[0]);
  const bx = [f[0], bandCentreX[i], f[2]];
  const by = bx.map(x => f[1] + slope*(x - f[0]));
  const hw = bandHalfWidth[i];
  traces.push({type:'scatter', mode:'lines', x: bx.concat(bx.slice().reverse()),
    y: by.map((v,k)=>v+hw[k]).concat(by.map((v,k)=>v-hw[k]).reverse()),
    fill:'toself', fillcolor:'rgba(153,153,153,0.4)', line:{width:0, color:'rgba(0,0,0,0)'},
    xaxis:'x'+sfx, yaxis:'y'+sfx, hoverinfo:'skip'});
  traces.push({type:'scatter', mode:'lines', x:[f[0],f[2]], y:[f[1],f[3]],
    line:{color:'#3366FF', width:2.2}, xaxis:'x'+sfx, yaxis:'y'+sfx, hoverinfo:'skip'});

  const axBase = {showline:true, mirror:true, linecolor:'#b3b3b3', linewidth:1,
    ticks:'outside', ticklen:4, tickcolor:'#b3b3b3', tickwidth:1, showgrid:false, zeroline:false,
    tickfont:{size:16.5, color:'#2b2b2b', family:FONT}, fixedrange:true};
  const xa = Object.assign({}, axBase, {domain:[colPx[c][0]/W, colPx[c][1]/W], anchor:'y'+sfx,
    range:xRanges[i], tickmode:'array', tickvals:xTicks[i]});
  if (i === 1) xa.ticktext = xTicks[i].map(v => v.toFixed(1));
  const ya = Object.assign({}, axBase, {domain:[1-rowPx[r][1]/H, 1-rowPx[r][0]/H], anchor:'x'+sfx,
    range:yRanges[i], tickmode:'array', tickvals:yTicks[i], tickformat:'d'});
  if (i === 8) ya.ticktext = ['0e+00','5e+04','1e+05'];
  layout['xaxis'+sfx] = xa;
  layout['yaxis'+sfx] = ya;

  const tx = (colPx[c][0] + textOffsetPx[i]) / W;
  layout.annotations.push({xref:'paper', yref:'paper', x:tx, y:1-(rowPx[r][0]+23.5)/H,
    xanchor:'left', yanchor:'middle', showarrow:false, text:'p < 0.0001', font:{size:17, color:'#222', family:FONT}});
  layout.annotations.push({xref:'paper', yref:'paper', x:tx, y:1-(rowPx[r][0]+47.5)/H,
    xanchor:'left', yanchor:'middle', showarrow:false, text:'R<sup>2</sup> = '+r2Values[i], font:{size:17, color:'#222', family:FONT}});
}

// column titles
for (let c = 0; c < 3; c++) {
  layout.annotations.push({xref:'paper', yref:'paper', x:(colPx[c][0]+colPx[c][1])/2/W, y:1-20/H,
    xanchor:'center', yanchor:'middle', showarrow:false, text:'<b>'+sites[c]+'</b>',
    font:{size:24.5, color:'#111', family:FONT}});
}
// row strip labels
for (let r = 0; r < 3; r++) {
  layout.annotations.push({xref:'paper', yref:'paper', x:1145/W, y:1-(rowPx[r][0]+rowPx[r][1])/2/H,
    xanchor:'center', yanchor:'middle', showarrow:false, text:'<b>'+species[r]+'</b>', textangle:90,
    font:{size:22, color:'#111', family:FONT}});
}
// axis titles
layout.annotations.push({xref:'paper', yref:'paper', x:611/W, y:0, xanchor:'center', yanchor:'bottom',
  showarrow:false, text:'Gonad mass (g)', font:{size:20.5, color:'#111', family:FONT}, borderpad:0});
layout.annotations.push({xref:'paper', yref:'paper', x:22/W, y:1-479/H, xanchor:'center', yanchor:'middle',
  showarrow:false, text:'Batch fecundity', textangle:-90, font:{size:22, color:'#111', family:FONT}});

Plotly.newPlot('chart', traces, layout, {displayModeBar:false, staticPlot:true});
</script></body></html>
